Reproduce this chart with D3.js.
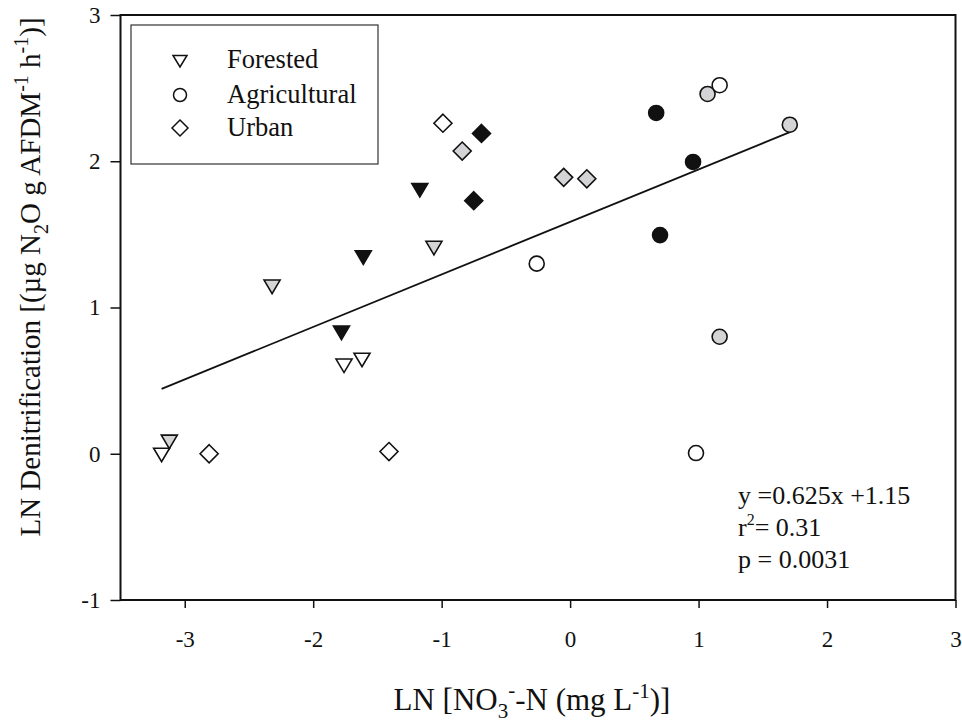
<!DOCTYPE html>
<html><head><meta charset="utf-8">
<script src="https://d3js.org/d3.v7.min.js"></script>
<style>body{margin:0;background:#fff}</style>
</head><body><svg id="c" width="962" height="724"></svg>
<script>
const xTicks = [-3,-2,-1,0,1,2,3];
const yTicks = [-1,0,1,2,3];
const legendLabels = ["Forested","Agricultural","Urban"];
// fill codes: w=white, g=gray, b=black
const forestX = [-3.18,-3.12,-2.32,-1.61,-1.78,-1.76,-1.62,-1.17,-1.06];
const forestY = [0.00,0.09,1.15,1.35,0.835,0.61,0.65,1.81,1.415];
const forestF = ["w","g","g","b","b","w","w","b","g"];
const urbanX = [-2.81,-1.41,-0.99,-0.84,-0.69,-0.75,-0.05,0.13];
const urbanY = [0.00,0.015,2.26,2.07,2.19,1.73,1.89,1.88];
const urbanF = ["w","w","w","g","b","b","g","g"];
const agriX = [-0.26,0.67,0.957,0.70,1.07,1.164,1.71,1.164,0.98];
const agriY = [1.30,2.33,1.995,1.495,2.46,2.52,2.25,0.80,0.005];
const agriF = ["w","b","b","b","g","w","g","g","w"];
const fitSlope = 0.359, fitIntercept = 1.585, fitRange = [-3.18, 1.72];
const statLines = ["y =0.625x +1.15","r2= 0.31","p = 0.0031"];

const fillMap = {w:"#ffffff", g:"#d4d4d6", b:"#111111"};
const svg = d3.select("#c");
const font = "'Liberation Serif','Times New Roman',serif";
const L=120.5,R=955.5,T=15,B=600;
const x = d3.scaleLinear().domain([-3.5,3]).range([L,R]);
const y = d3.scaleLinear().domain([-1,3]).range([B,T]);

svg.append("rect").attr("x",L).attr("y",T).attr("width",R-L).attr("height",B-T)
  .attr("fill","none").attr("stroke","#111").attr("stroke-width",2);

const xa = svg.append("g").attr("transform",`translate(0,${B})`)
  .call(d3.axisBottom(x).tickValues(xTicks).tickSize(8).tickPadding(23).tickFormat(d=>String(d)));
const ya = svg.append("g").attr("transform",`translate(${L},0)`)
  .call(d3.axisLeft(y).tickValues(yTicks).tickSize(10).tickPadding(10).tickFormat(d=>String(d)));
[xa,ya].forEach(a=>{
  a.select(".domain").remove();
  a.selectAll("line").attr("stroke","#111").attr("stroke-width",1.5);
  a.selectAll("text").attr("font-family",font).attr("font-size",23).attr("fill","#111");
});

svg.append("line").attr("x1",x(fitRange[0])).attr("y1",y(fitSlope*fitRange[0]+fitIntercept))
  .attr("x2",x(fitRange[1])).attr("y2",y(fitSlope*fitRange[1]+fitIntercept))
  .attr("stroke","#111").attr("stroke-width",1.8);

function drawSet(xs,ys,fs,shape){
  const data = xs.map((v,i)=>({px:x(v),py:y(ys[i]),f:fs[i]}));
  const sel = svg.append("g").selectAll("path").data(data).join(shape==="circle"?"circle":"path")
    .attr("fill",d=>fillMap[d.f]).attr("stroke","#111").attr("stroke-width",1.6);
  if(shape==="circle") sel.attr("cx",d=>d.px).attr("cy",d=>d.py).attr("r",7.5);
  else if(shape==="diamond") sel.attr("d","M0,-9L9,0L0,9L-9,0Z").attr("transform",d=>`translate(${d.px},${d.py})`);
  else sel.attr("d","M-8,-5.5L8,-5.5L0,8Z").attr("transform",d=>`translate(${d.px},${d.py})`);
}
drawSet(forestX,forestY,forestF,"tri");
drawSet(urbanX,urbanY,urbanF,"diamond");
drawSet(agriX,agriY,agriF,"circle");

svg.append("rect").attr("x",131).attr("y",25).attr("width",247).attr("height",139)
  .attr("fill","#fff").attr("stroke","#333").attr("stroke-width",1.2);
const lg = svg.append("g");
const rowsY=[60,95,128];
lg.append("path").attr("d","M-7,-4.5L7,-4.5L0,7Z").attr("transform",`translate(180,${rowsY[0]})`).attr("fill","#fff").attr("stroke","#111").attr("stroke-width",1.5);
lg.append("circle").attr("cx",180).attr("cy",rowsY[1]).attr("r",6.5).attr("fill","#fff").attr("stroke","#111").attr("stroke-width",1.5);
lg.append("path").attr("d","M0,-8L8,0L0,8L-8,0Z").attr("transform",`translate(180,${rowsY[2]})`).attr("fill","#fff").attr("stroke","#111").attr("stroke-width",1.5);
legendLabels.forEach((t,i)=>lg.append("text").attr("x",227).attr("y",rowsY[i]+8).text(t)
  .attr("font-family",font).attr("font-size",26.5).attr("fill","#111"));

const st = svg.append("g").attr("font-family",font).attr("font-size",26).attr("fill","#111");
st.append("text").attr("x",738).attr("y",504).text(statLines[0]);
const r2 = st.append("text").attr("x",738).attr("y",536);
r2.append("tspan").text("r");
r2.append("tspan").attr("font-size",16).attr("dy",-11).text("2");
r2.append("tspan").attr("dy",11).text("= 0.31");
st.append("text").attr("x",738).attr("y",568).text(statLines[2]);

const xt = svg.append("text").attr("x",532).attr("y",710).attr("text-anchor","middle")
  .attr("font-family",font).attr("font-size",31).attr("fill","#111");
xt.append("tspan").text("LN [NO");
xt.append("tspan").attr("font-size",21).attr("dy",8).text("3");
xt.append("tspan").attr("font-size",21).attr("dy",-21).text("-");
xt.append("tspan").attr("dy",13).text("-N (mg L");
xt.append("tspan").attr("font-size",21).attr("dy",-12).text("-1");
xt.append("tspan").attr("dy",12).text(")]");

const yt = svg.append("text").attr("transform","translate(40,277) rotate(-90)").attr("text-anchor","middle")
  .attr("font-family",font).attr("font-size",29).attr("fill","#111");
yt.append("tspan").text("LN Denitrification [(µg N");
yt.append("tspan").attr("font-size",20).attr("dy",8).text("2");
yt.append("tspan").attr("dy",-8).text("O g AFDM");
yt.append("tspan").attr("font-size",20).attr("dy",-12).text("-1");
yt.append("tspan").attr("dy",12).text(" h");
yt.append("tspan").attr("font-size",20).attr("dy",-12).text("-1");
yt.append("tspan").attr("dy",12).text(")]");
</script></body></html>
